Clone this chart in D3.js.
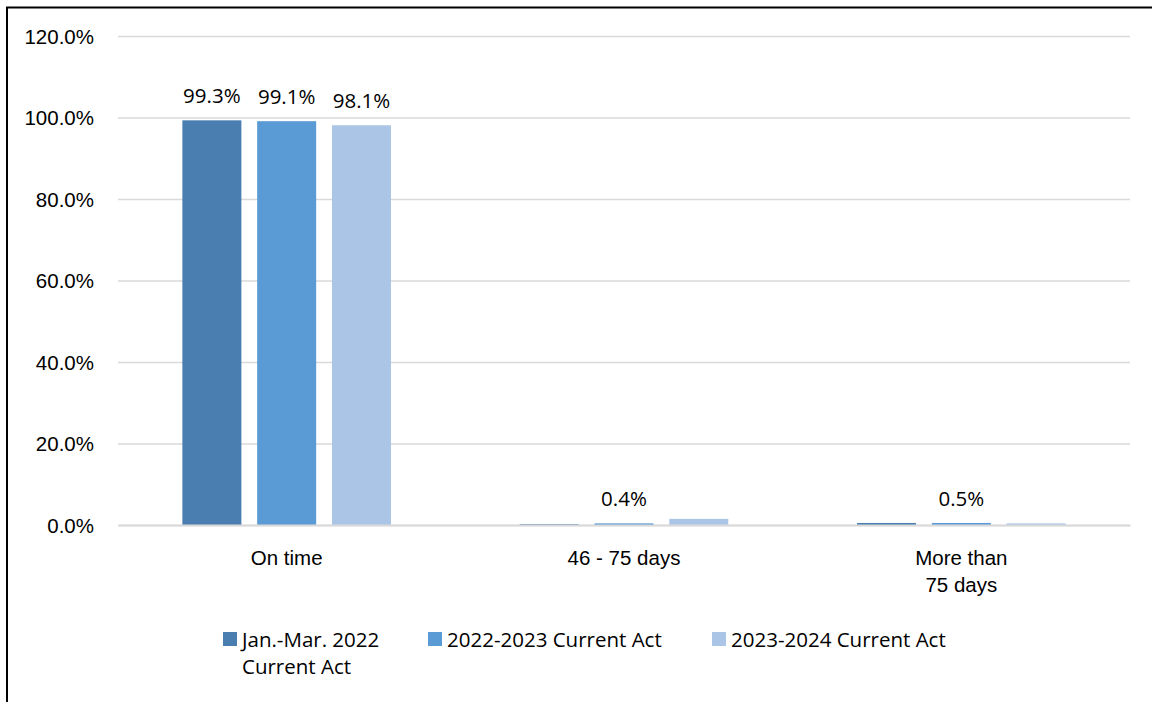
<!DOCTYPE html>
<html>
<head>
<meta charset="utf-8">
<script src="https://cdn.jsdelivr.net/npm/d3@7"></script>
<style>
  html, body { margin: 0; padding: 0; background: #fff; }
  svg { display: block; font-family: "Open Sans", "Noto Sans", sans-serif; }
  .grid line { stroke: #d9d9d9; stroke-width: 1.5; }
  .grid text { fill: #000; font-size: 20.5px; }
</style>
</head>
<body>
<svg id="chart" width="1152" height="702"></svg>
<script>
// Share of filings by timeliness, per reporting period
const categories = ["On time", "46 - 75 days", "More than 75 days"];
const categoryLines = [["On time"], ["46 - 75 days"], ["More than", "75 days"]];
const seriesNames = ["Jan.-Mar. 2022 Current Act", "2022-2023 Current Act", "2023-2024 Current Act"];
const seriesLegendLines = [["Jan.-Mar. 2022", "Current Act"], ["2022-2023 Current Act"], ["2023-2024 Current Act"]];
const jan2022 = [99.3, 0.2, 0.5];
const fy2023 = [99.1, 0.4, 0.5];
const fy2024 = [98.1, 1.5, 0.4];
// which bars carry a value label
const labelJan2022 = [true, false, false];
const labelFy2023 = [true, true, true];
const labelFy2024 = [true, false, false];
const yTicks = [0, 20, 40, 60, 80, 100, 120];
const colors = ["#4a7db0", "#5b9bd5", "#abc5e6"];

const seriesValues = [jan2022, fy2023, fy2024];
const seriesLabels = [labelJan2022, labelFy2023, labelFy2024];
const fontSize = 20.5;

const svg = d3.select("#chart");
const plot = { left: 118, right: 1130, top: 36, bottom: 525 };

const y = d3.scaleLinear().domain([0, 120]).range([plot.bottom, plot.top]);
const x0 = d3.scaleBand().domain(categories).range([plot.left, plot.right]).padding(0);
const groupW = x0.bandwidth();
const barsSpan = 208.6;
const x1 = d3.scaleBand().domain(seriesNames)
  .range([groupW / 2 - barsSpan / 2, groupW / 2 + barsSpan / 2])
  .paddingInner(0.211).paddingOuter(0);

// outer frame
svg.append("rect")
  .attr("x", 7).attr("y", 7.5)
  .attr("width", 1200).attr("height", 800)
  .attr("fill", "none").attr("stroke", "#000").attr("stroke-width", 2);

// value axis with gridlines
const yAxis = d3.axisLeft(y)
  .tickValues(yTicks)
  .tickFormat(d => d3.format(".1f")(d) + "%")
  .tickSizeInner(-(plot.right - plot.left))
  .tickSizeOuter(0)
  .tickPadding(24);
const gy = svg.append("g").attr("class", "grid")
  .attr("transform", `translate(${plot.left},0)`)
  .call(yAxis);
gy.select(".domain").remove();
gy.selectAll("text").attr("dy", "0.36em");

// bars
const rows = [];
seriesNames.forEach((s, si) => {
  categories.forEach((c, ci) => {
    rows.push({ series: s, si, category: c, value: seriesValues[si][ci], label: seriesLabels[si][ci] });
  });
});

svg.append("g").selectAll("rect")
  .data(rows)
  .join("rect")
  .attr("x", d => x0(d.category) + x1(d.series))
  .attr("y", d => y(d.value))
  .attr("width", x1.bandwidth())
  .attr("height", d => y(0) - y(d.value))
  .attr("fill", d => colors[d.si]);

// value labels
svg.append("g").selectAll("text")
  .data(rows.filter(d => d.label))
  .join("text")
  .attr("x", d => x0(d.category) + x1(d.series) + x1.bandwidth() / 2)
  .attr("y", d => y(d.value) - 17)
  .attr("text-anchor", "middle")
  .attr("font-size", fontSize)
  .attr("fill", "#000")
  .text(d => d.value.toFixed(1) + "%");

// category axis
const xAxis = d3.axisBottom(x0).tickSize(0).tickFormat("");
const gx = svg.append("g")
  .attr("transform", `translate(0,${plot.bottom})`)
  .call(xAxis);
gx.select(".domain").attr("stroke", "#d9d9d9").attr("stroke-width", 2);
gx.selectAll(".tick").each(function (d, i) {
  const t = d3.select(this).append("text")
    .attr("text-anchor", "middle")
    .attr("font-size", fontSize)
    .attr("fill", "#000");
  categoryLines[i].forEach((line, li) => {
    t.append("tspan").attr("x", 0).attr("y", 40 + li * 27).text(line);
  });
});

// legend
const legendX = [223, 428, 712];
const legend = svg.append("g");
seriesNames.forEach((s, i) => {
  const g = legend.append("g").attr("transform", `translate(${legendX[i]},632)`);
  g.append("rect").attr("width", 14).attr("height", 14).attr("fill", colors[i]);
  const t = g.append("text").attr("font-size", fontSize).attr("fill", "#000");
  seriesLegendLines[i].forEach((line, li) => {
    t.append("tspan").attr("x", 19).attr("y", 15 + li * 27).text(line);
  });
});
</script>
</body>
</html>
